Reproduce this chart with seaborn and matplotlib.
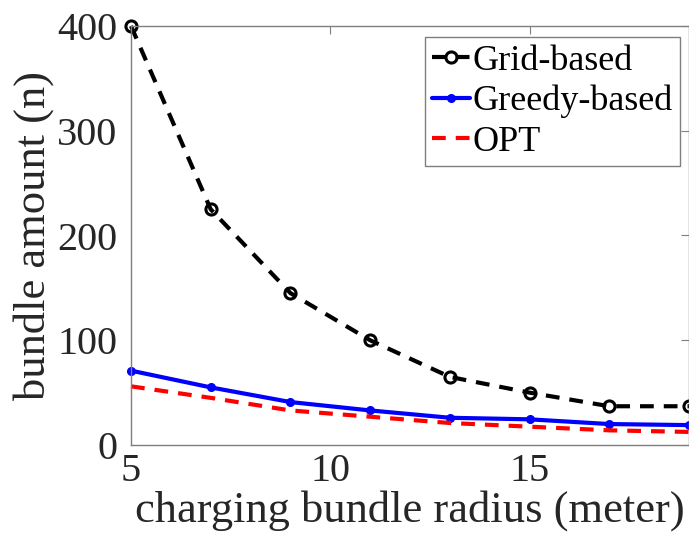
import matplotlib
matplotlib.use("Agg")
import matplotlib.pyplot as plt
import seaborn as sns
import pandas as pd

radius = [5, 7, 9, 11, 13, 15, 17, 19]
grid_based = [400, 225, 145, 100, 65, 50, 37, 37]
greedy_based = [71, 55, 41, 33, 26, 24.5, 20, 19]
opt = [56, 45, 33, 27, 21, 17.5, 14, 12.5]
series_names = ["Grid-based", "Greedy-based", "OPT"]
y_ticks = [0, 100, 200, 300, 400]
x_ticks = [5, 10, 15]

sns.set_style("white")
plt.rcParams["font.family"] = ["Liberation Serif", "DejaVu Serif"]

df = pd.DataFrame({
    "radius": radius * 3,
    "value": grid_based + greedy_based + opt,
    "series": [series_names[0]] * len(radius) + [series_names[1]] * len(radius) + [series_names[2]] * len(radius),
})

fig = plt.figure(figsize=(6.89, 5.5), dpi=100)
ax = fig.add_axes([131 / 689, 105 / 550, (689 - 131) / 689, (445 - 26) / 550])

styles = {
    "Grid-based": dict(color="black", linestyle=(0, (3.3, 2.4)), marker="o", markersize=8,
                       markerfacecolor="none", markeredgecolor="black", markeredgewidth=2.2, linewidth=3),
    "Greedy-based": dict(color="#0000ff", linestyle="-", marker="o", markersize=5.5,
                         markerfacecolor="#0000ff", markeredgecolor="#0000ff", markeredgewidth=1, linewidth=3),
    "OPT": dict(color="#ff0000", linestyle=(0, (3.3, 2.4)), linewidth=3),
}
for name in series_names:
    sub = df[df["series"] == name]
    sns.lineplot(data=sub, x="radius", y="value", ax=ax, label=name, clip_on=False, **styles[name])

ax.set_xlim(5, 19)
ax.set_ylim(0, 400)
ax.set_xticks(x_ticks)
ax.set_yticks(y_ticks)
ax.tick_params(direction="in", length=6, width=0.8, color="#7f7f7f", labelsize=29,
               top=True, right=True, labelcolor="#262626")
ax.tick_params(axis="y", pad=10)
ax.tick_params(axis="x", pad=6)
for s in ax.spines.values():
    s.set_color("#7f7f7f")
    s.set_linewidth(1)
    s.set_visible(True)
ax.set_xlabel("charging bundle radius (meter)", fontsize=32, color="#262626", labelpad=0)
ax.set_ylabel("bundle amount (n)", fontsize=32, color="#262626", labelpad=2)

leg = ax.legend(loc="upper right", bbox_to_anchor=(680 / 689, (550 - 37) / 550),
                bbox_transform=fig.transFigure, borderaxespad=0,
                fontsize=26, frameon=True, fancybox=False, handlelength=1.05, handletextpad=0.08,
                borderpad=0.2, labelspacing=0.2)
for t in leg.get_texts():
    t.set_color("black")
frame = leg.get_frame()
frame.set_edgecolor("#7f7f7f")
frame.set_linewidth(1)
frame.set_alpha(1)

fig.savefig("out.png", dpi=100)
